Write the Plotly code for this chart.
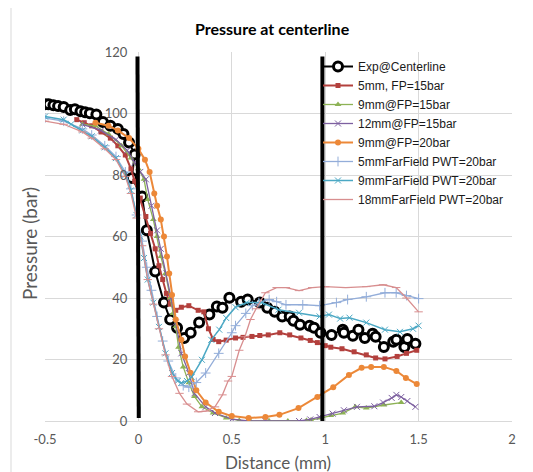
import plotly.graph_objects as go

# ---------------- data ----------------
exp_x = [-0.50, -0.48, -0.455, -0.43, -0.40, -0.365, -0.34, -0.31, -0.285, -0.26, -0.225, -0.19, -0.15,
         -0.11, -0.08, -0.05, -0.02, -0.035, 0.02, 0.045, 0.09, 0.137, 0.17, 0.207, 0.245, 0.28, 0.325,
         0.38, 0.42, 0.45, 0.487, 0.55, 0.585, 0.65, 0.69, 0.73, 0.77, 0.81, 0.83, 0.865, 0.916, 0.94,
         0.975, 1.034, 1.094, 1.10, 1.148, 1.178, 1.212, 1.254, 1.27, 1.314, 1.364, 1.381, 1.424, 1.44, 1.483]
exp_y = [103.0, 103.0, 102.7, 102.4, 102.1, 101.1, 101.4, 100.7, 100.4, 100.1, 99.7, 97.2, 96.0,
         95.0, 93.3, 90.6, 86.7, 79.0, 73.0, 62.0, 48.6, 38.5, 33.0, 30.3, 27.0, 28.7, 32.0,
         34.6, 37.2, 36.8, 40.1, 38.8, 39.5, 38.5, 36.8, 35.5, 34.0, 34.0, 32.6, 31.3, 31.0, 30.3,
         28.7, 28.0, 29.7, 28.7, 27.7, 29.7, 27.0, 28.4, 27.4, 24.1, 25.8, 26.4, 24.1, 26.7, 25.1]

red_x = [-0.33, -0.29, -0.25, -0.20, -0.15, -0.11, -0.07, -0.04, -0.02, 0.01, 0.04, 0.065, 0.09, 0.11,
         0.13, 0.15, 0.17, 0.20, 0.23, 0.27, 0.32, 0.35, 0.375, 0.40, 0.43, 0.47, 0.52, 0.56, 0.608,
         0.65, 0.695, 0.757, 0.81, 0.87, 0.92, 0.958, 1.00, 1.03, 1.09, 1.155, 1.22, 1.27, 1.32, 1.385,
         1.435, 1.49]
red_y = [98.0, 97.0, 96.0, 94.0, 92.0, 89.5, 86.5, 82.0, 78.0, 72.5, 66.5, 61.0, 56.0, 50.5,
         46.0, 41.5, 38.0, 36.0, 37.0, 37.5, 36.0, 35.5, 30.0, 26.5, 25.8, 26.3, 27.0, 27.2, 27.5,
         27.8, 28.0, 28.7, 28.0, 27.0, 26.2, 25.5, 24.5, 24.0, 23.5, 22.5, 21.5, 20.5, 20.2, 21.0,
         22.0, 23.0]

grn_x = [-0.30, -0.23, -0.16, -0.09, -0.04, 0.0, 0.03, 0.05, 0.08, 0.10, 0.12, 0.145, 0.17, 0.185,
         0.20, 0.215, 0.24, 0.27, 0.30, 0.34, 0.40, 0.47, 0.54, 0.60, 0.70, 0.80, 0.90, 0.924, 0.975,
         1.03, 1.094, 1.161, 1.22, 1.314, 1.407]
grn_y = [96.5, 96.0, 93.3, 89.5, 85.5, 82.0, 78.6, 72.0, 65.5, 60.0, 53.5, 48.0, 40.0, 35.0,
         30.7, 24.0, 17.6, 12.4, 8.0, 4.6, 2.6, 1.0, 0.2, 0.0, 0.0, 0.0, 0.2, 0.3, 1.0,
         1.8, 2.6, 4.6, 4.2, 5.2, 6.0]

pur_x = [-0.30, -0.20, -0.12, -0.06, -0.02, 0.01, 0.04, 0.07, 0.10, 0.12, 0.15, 0.175, 0.20, 0.23,
         0.27, 0.30, 0.36, 0.41, 0.50, 0.59, 0.68, 0.86, 0.92, 0.97, 1.04, 1.10, 1.17, 1.263, 1.31,
         1.356, 1.381, 1.407, 1.44, 1.483]
pur_y = [96.5, 94.5, 91.5, 88.0, 84.0, 81.0, 78.6, 70.0, 62.0, 56.0, 48.0, 40.0, 32.0, 22.0,
         15.6, 9.0, 4.6, 2.6, 0.6, 0.0, 0.0, 0.0, 0.5, 1.3, 2.4, 3.5, 4.6, 4.8, 6.0,
         7.5, 8.5, 7.8, 6.5, 4.6]

org_x = [-0.23, -0.16, -0.11, -0.05, 0.0, 0.035, 0.06, 0.085, 0.10, 0.12, 0.137, 0.153, 0.165, 0.18,
         0.20, 0.23, 0.25, 0.28, 0.31, 0.36, 0.43, 0.50, 0.59, 0.68, 0.755, 0.857, 0.958, 1.043, 1.127,
         1.195, 1.246, 1.314, 1.381, 1.432, 1.49]
org_y = [97.0, 96.0, 94.5, 92.0, 88.5, 85.0, 81.0, 74.0, 70.0, 65.5, 60.0, 53.5, 48.0, 41.0,
         33.0, 26.4, 21.0, 15.6, 10.0, 6.0, 3.0, 1.6, 1.0, 1.3, 2.0, 4.2, 7.8, 11.0, 15.0,
         17.3, 17.6, 17.6, 16.3, 14.0, 12.0]

lbl_x = [-0.50, -0.40, -0.30, -0.25, -0.18, -0.12, -0.07, -0.04, -0.01, 0.02, 0.045, 0.07, 0.10, 0.13,
         0.16, 0.20, 0.24, 0.27, 0.31, 0.36, 0.43, 0.50, 0.52, 0.575, 0.61, 0.645, 0.70, 0.74, 0.79,
         0.88, 0.97, 1.06, 1.12, 1.22, 1.32, 1.38, 1.435, 1.50]
lbl_y = [98.5, 97.5, 95.0, 93.0, 89.5, 86.0, 81.0, 75.5, 67.0, 58.5, 50.0, 42.5, 34.0, 26.0,
         19.5, 14.0, 11.5, 11.0, 12.5, 15.6, 22.0, 28.7, 31.0, 35.0, 37.5, 38.5, 39.5, 38.8, 37.8,
         37.8, 37.5, 38.5, 39.5, 40.4, 41.7, 41.7, 40.8, 39.8]

tea_x = [-0.50, -0.40, -0.36, -0.30, -0.25, -0.18, -0.12, -0.07, -0.04, -0.01, 0.01, 0.03, 0.05, 0.08,
         0.11, 0.145, 0.18, 0.21, 0.23, 0.26, 0.285, 0.34, 0.39, 0.433, 0.47, 0.52, 0.58, 0.66, 0.75,
         0.86, 0.97, 1.02, 1.08, 1.13, 1.22, 1.32, 1.40, 1.47, 1.50]
tea_y = [99.0, 98.0, 96.5, 94.5, 92.6, 89.0, 85.5, 80.0, 75.0, 67.0, 60.0, 53.0, 46.0, 38.5,
         30.6, 22.0, 15.6, 13.0, 12.4, 13.0, 14.3, 19.9, 26.4, 29.7, 33.5, 37.0, 38.5, 38.5, 36.2,
         35.2, 34.0, 34.6, 33.3, 33.6, 32.0, 29.7, 29.0, 30.0, 31.0]

pnk_x = [-0.50, -0.40, -0.30, -0.25, -0.18, -0.12, -0.07, -0.04, -0.01, 0.02, 0.05, 0.08, 0.11, 0.145,
         0.18, 0.22, 0.26, 0.32, 0.36, 0.41, 0.45, 0.48, 0.50, 0.54, 0.57, 0.60, 0.63, 0.68, 0.74,
         0.79, 0.86, 0.93, 1.00, 1.11, 1.22, 1.31, 1.38, 1.435, 1.50]
pnk_y = [97.5, 96.5, 94.0, 92.0, 88.5, 85.0, 79.5, 74.0, 66.0, 57.0, 46.0, 38.0, 30.0, 21.5,
         14.5, 9.0, 5.5, 3.0, 3.2, 4.6, 8.5, 13.0, 14.5, 23.0, 27.4, 33.0, 36.5, 41.7, 43.4,
         43.4, 42.4, 43.4, 43.7, 43.4, 43.7, 44.3, 43.4, 40.0, 35.5]

# vertical reference markers drawn as black lines
vline1_x = [-0.005, 0.002]
vline1_y = [118.5, 1.0]
vline2_x = [0.985, 0.985]
vline2_y = [118.5, 0.0]

names = ["Exp@Centerline", "5mm, FP=15bar", "9mm@FP=15bar", "12mm@FP=15bar", "9mm@FP=20bar",
         "5mmFarField PWT=20bar", "9mmFarField PWT=20bar", "18mmFarField PWT=20bar"]

x_ticks = [-0.5, 0, 0.5, 1, 1.5, 2]
x_ticklabels = ["-0.5", "0", "0.5", "1", "1.5", "2"]
y_ticks = [0, 20, 40, 60, 80, 100, 120]

# ---------------- figure ----------------
fig = go.Figure()

fig.add_trace(go.Scatter(x=exp_x, y=exp_y, name=names[0], mode="lines+markers",
                         line=dict(color="black", width=2),
                         marker=dict(symbol="circle", size=9, color="white",
                                     line=dict(color="black", width=3))))
fig.add_trace(go.Scatter(x=red_x, y=red_y, name=names[1], mode="lines+markers",
                         line=dict(color="#B3403D", width=2),
                         marker=dict(symbol="square", size=5, color="#B3403D")))
fig.add_trace(go.Scatter(x=grn_x, y=grn_y, name=names[2], mode="lines+markers",
                         line=dict(color="#8DB255", width=1.3),
                         marker=dict(symbol="triangle-up", size=6, color="#8DB255")))
fig.add_trace(go.Scatter(x=pur_x, y=pur_y, name=names[3], mode="lines+markers",
                         line=dict(color="#7D60A0", width=1.3),
                         marker=dict(symbol="x-thin", size=6, color="#7D60A0",
                                     line=dict(color="#7D60A0", width=1))))
fig.add_trace(go.Scatter(x=org_x, y=org_y, name=names[4], mode="lines+markers",
                         line=dict(color="#EC8838", width=2),
                         marker=dict(symbol="circle", size=6, color="#EC8838")))
fig.add_trace(go.Scatter(x=lbl_x, y=lbl_y, name=names[5], mode="lines+markers",
                         line=dict(color="#93ADD9", width=1.3),
                         marker=dict(symbol="cross-thin", size=7, color="#93ADD9",
                                     line=dict(color="#93ADD9", width=1))))
fig.add_trace(go.Scatter(x=tea_x, y=tea_y, name=names[6], mode="lines+markers",
                         line=dict(color="#4BA8C4", width=1.5),
                         marker=dict(symbol="x-thin", size=6, color="#4BA8C4",
                                     line=dict(color="#4BA8C4", width=1))))
fig.add_trace(go.Scatter(x=pnk_x, y=pnk_y, name=names[7], mode="lines+markers",
                         line=dict(color="#D88E8F", width=1.3),
                         marker=dict(symbol="line-ew", size=6, color="#D88E8F",
                                     line=dict(color="#D88E8F", width=1))))

for vx, vy in ((vline1_x, vline1_y), (vline2_x, vline2_y)):
    fig.add_trace(go.Scatter(x=vx, y=vy, mode="lines", showlegend=False, hoverinfo="skip",
                             line=dict(color="black", width=4)))

# the page body has an 8px default margin: lay out in page pixels minus that offset
OFF = 8
W, H = 533 - OFF, 472 - OFF
PLOT_L, PLOT_R, PLOT_T, PLOT_B = 45, 512, 52, 421   # plot area in page pixels
L = PLOT_L - OFF
T = PLOT_T - OFF
R = W - (PLOT_R - OFF)
B = H - (PLOT_B - OFF)
pw, ph = PLOT_R - PLOT_L, PLOT_B - PLOT_T


def px2paper(px, py):
    return (px - PLOT_L) / pw, (PLOT_B - py) / ph


tick_font = dict(family="Lato, Liberation Sans, sans-serif", size=13, color="#595959")

fig.update_layout(
    width=W, height=H,
    margin=dict(l=L, r=R, t=T, b=B),
    paper_bgcolor="white", plot_bgcolor="white",
    showlegend=True,
    legend=dict(x=px2paper(318, 0)[0], y=px2paper(0, 52)[1], xanchor="left", yanchor="top",
                bgcolor="rgba(0,0,0,0)", font=dict(family="Liberation Sans, Arial, sans-serif",
                                                   size=12, color="#1a1a1a"),
                tracegroupgap=0),
    xaxis=dict(range=[-0.5, 2], tickvals=x_ticks, ticktext=x_ticklabels, showgrid=True,
               gridcolor="#D9D9D9", gridwidth=1, zeroline=False, showline=True,
               linecolor="#D9D9D9", linewidth=1, ticks="", tickfont=tick_font,
               ticklabelstandoff=6),
    yaxis=dict(range=[0, 120], tickvals=y_ticks, showgrid=True, gridcolor="#D9D9D9",
               gridwidth=1, zeroline=False, showline=False, ticks="", tickfont=tick_font,
               anchor="free", position=0.2, ticklabelstandoff=11),
)

tx, ty = px2paper(272, 28)
yx, yy = px2paper(30, 244)
xx, xy = px2paper(278, 462)
fig.add_annotation(text="<b>Pressure at centerline</b>", x=tx, y=ty, xref="paper", yref="paper",
                   showarrow=False, xanchor="center", yanchor="middle",
                   font=dict(family="Lato, Liberation Sans, sans-serif", size=16, color="#000000"))
fig.add_annotation(text="Pressure (bar)", x=yx, y=yy, xref="paper", yref="paper", textangle=-90,
                   showarrow=False, xanchor="center", yanchor="middle",
                   font=dict(family="Lato, Liberation Sans, sans-serif", size=19, color="#595959"))
fig.add_annotation(text="Distance (mm)", x=xx, y=xy, xref="paper", yref="paper",
                   showarrow=False, xanchor="center", yanchor="middle",
                   font=dict(family="Lato, Liberation Sans, sans-serif", size=17, color="#595959"))

bx0, by0 = px2paper(11, 7)
bx1, by1 = px2paper(529, 490)
fig.add_shape(type="rect", xref="paper", yref="paper", x0=bx0, y0=by1, x1=bx1, y1=by0,
              line=dict(color="#D9D9D9", width=1), fillcolor="rgba(0,0,0,0)", layer="below")

fig.write_html("out.html")
